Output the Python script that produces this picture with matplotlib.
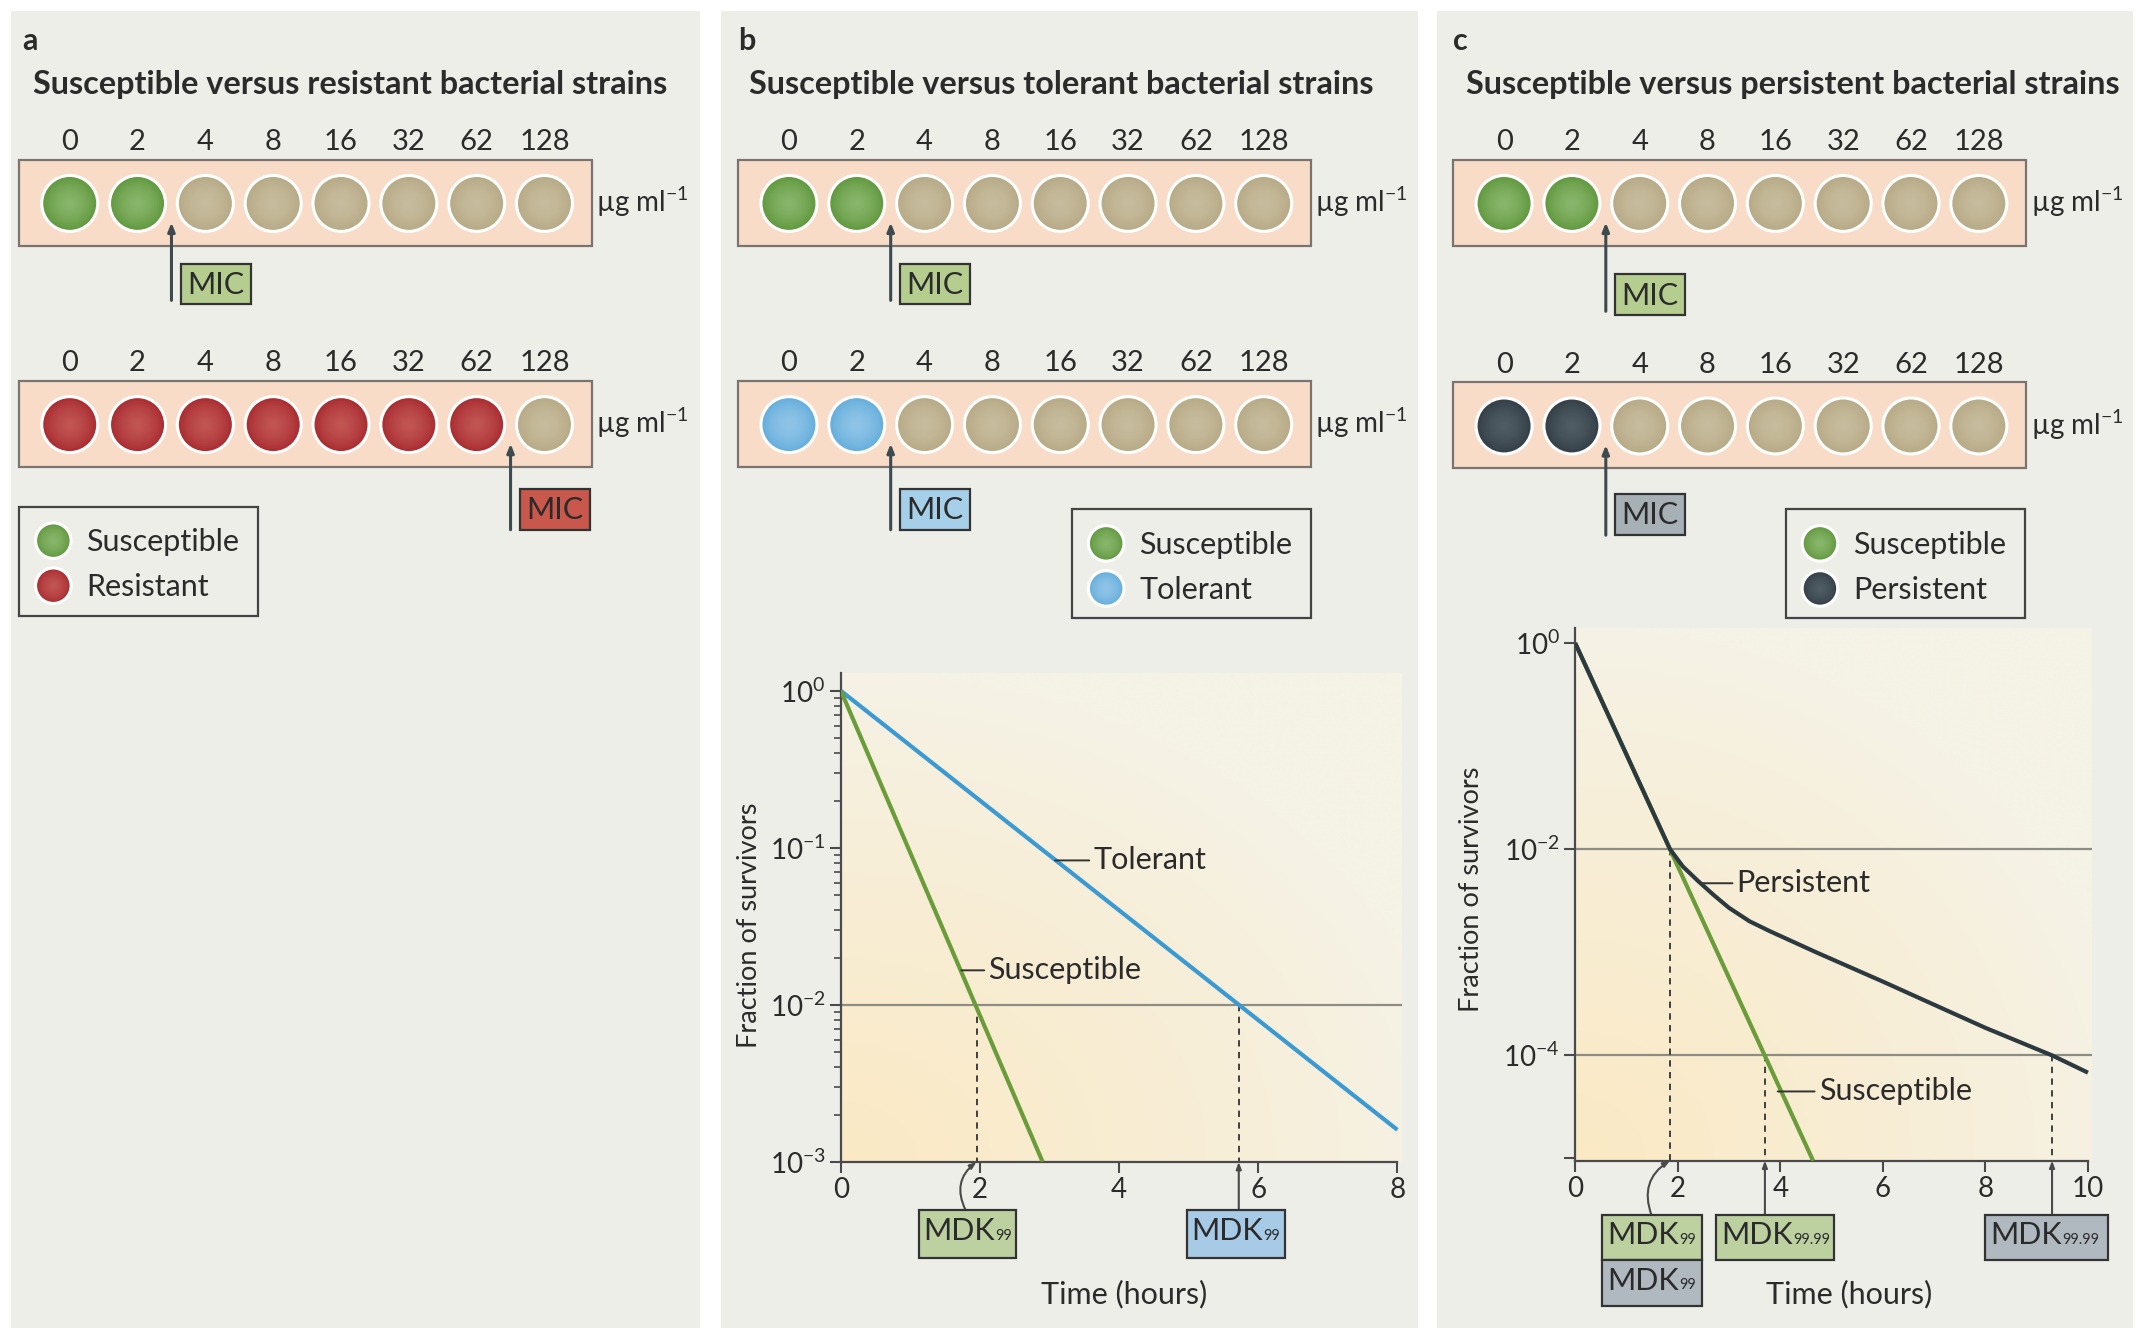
import numpy as np
import matplotlib.pyplot as plt
from matplotlib.patches import Rectangle, Circle
from matplotlib.ticker import LogLocator, NullLocator, NullFormatter

plt.rcParams['font.family'] = ['Lato', 'DejaVu Sans']
plt.rcParams['mathtext.fontset'] = 'custom'
plt.rcParams['mathtext.rm'] = 'Lato'
plt.rcParams['mathtext.it'] = 'Lato:italic'
plt.rcParams['mathtext.bf'] = 'Lato:bold'

# ---- data ----
concentrations = ['0', '2', '4', '8', '16', '32', '62', '128']
panel_letters = ['a', 'b', 'c']
panel_titles = ['Susceptible versus resistant bacterial strains',
                'Susceptible versus tolerant bacterial strains',
                'Susceptible versus persistent bacterial strains']
# number of wells with growth (top strip, bottom strip) per panel
growth_top = [2, 2, 2]
growth_bottom = [7, 2, 2]
strain_bottom = ['resistant', 'tolerant', 'persistent']
legend_labels = [['Susceptible', 'Resistant'],
                 ['Susceptible', 'Tolerant'],
                 ['Susceptible', 'Persistent']]

# panel b: time-kill curves
b_sus_time = [0, 2.9]
b_sus_frac = [1.0, 1.0e-3]
b_tol_time = [0, 8.0]
b_tol_frac = [1.0, 1.6e-3]
b_mdk_sus = 1.95
b_mdk_tol = 5.72

# panel c: time-kill curves
c_sus_time = [0, 4.64]
c_sus_frac = [1.0, 9.5e-6]
c_per_time = [0, 1.85, 2.1, 2.4, 2.7, 3.0, 3.4, 3.8, 4.7, 6.0, 7.0, 8.0, 9.3, 10.0]
c_per_frac = [1.0, 1.0e-2, 6.8e-3, 4.9e-3, 3.6e-3, 2.7e-3, 2.0e-3, 1.6e-3,
              1.0e-3, 5.2e-4, 3.1e-4, 1.85e-4, 1.0e-4, 6.8e-5]
c_mdk99 = 1.85
c_mdk9999_sus = 3.7
c_mdk9999_per = 9.3

# ---- styling ----
W, H = 1568, 980
TXT = '#2b2b2b'
PANEL_BG = '#eeeee9'
well_col = {'susceptible': ('#659b43', '#a3cb88'),
            'resistant': ('#ab3034', '#d4716a'),
            'tolerant': ('#69b0de', '#acd5f1'),
            'persistent': ('#36414a', '#66737a'),
            'empty': ('#b8ac89', '#d6cdb0')}
mic_col = {'susceptible': '#b5cd8e', 'resistant': '#c9574b',
           'tolerant': '#a6cfe9', 'persistent': '#a6b0b5'}
MDK_GREEN = '#bdd1a0'
MDK_BLUE = '#a7cbe6'
MDK_GRAY = '#b0b9bf'
LINE_GREEN = '#6a9d3a'
LINE_BLUE = '#3b9ad2'
LINE_DARK = '#2c3a40'
GRAY_LINE = '#8d8d85'
FS = 21

fig = plt.figure(figsize=(21.44, 13.38), dpi=100)
fig.patch.set_facecolor('white')

ax0 = fig.add_axes([0, 0, 1, 1])
ax0.set_xlim(0, W)
ax0.set_ylim(H, 0)
ax0.axis('off')

panel_x = [8, 527, 1051]
panel_w = [504, 510, 509]
letter_x = [16, 540, 1063]
title_x = [24, 548, 1072]
strip_x = [14, 540, 1063]
strip_y = [(117, 279), (117, 279), (117, 280)]
mic_box_y = [(193, 358), (193, 358), (201, 362)]
arrow_low = [(220, 388), (220, 388), (228, 392)]
legend_xy = [(14, 371), (784, 373), (1306, 373)]
PITCH = 49.6


def draw_well(cx, cy, kind, r=20.5):
    base, hi = well_col[kind]
    ax0.add_patch(Circle((cx, cy), r, facecolor=base, edgecolor='white', lw=2.2, zorder=3))
    for k in range(10):
        rr = r * (0.85 - k * 0.08)
        ax0.add_patch(Circle((cx, cy), rr, facecolor=hi, edgecolor='none',
                             alpha=0.09, zorder=4))


for p in range(3):
    ax0.add_patch(Rectangle((panel_x[p], 8), panel_w[p], 965, facecolor=PANEL_BG,
                            edgecolor='none', zorder=0))
    ax0.text(letter_x[p], 30, panel_letters[p], fontsize=22, fontweight='bold',
             color=TXT, va='center', ha='left')
    ax0.text(title_x[p], 62, panel_titles[p], fontsize=23.3, fontweight='bold',
             color=TXT, va='center', ha='left')

    for row in range(2):
        sx, sy = strip_x[p], strip_y[p][row]
        ax0.add_patch(Rectangle((sx, sy), 419, 63, facecolor='#f9dcc7',
                                edgecolor='#7a7470', lw=1.6, zorder=2))
        n_grow = growth_top[p] if row == 0 else growth_bottom[p]
        kind = 'susceptible' if row == 0 else strain_bottom[p]
        for i, conc in enumerate(concentrations):
            cx = sx + 37 + i * PITCH
            ax0.text(cx, sy - 13, conc, fontsize=FS, color=TXT, ha='center', va='center')
            draw_well(cx, sy + 32, kind if i < n_grow else 'empty')
        ax0.text(sx + 422, sy + 31, r'µg ml$^{-1}$', fontsize=20, color=TXT,
                 ha='left', va='center')
        # MIC arrow and label
        ax_x = sx + 37 + (n_grow - 0.5) * PITCH
        ax0.annotate('', xy=(ax_x, sy + 46), xytext=(ax_x, arrow_low[p][row]),
                     arrowprops=dict(arrowstyle='-|>,head_length=0.5,head_width=0.2',
                                     color='#3d4a50', lw=2.2, shrinkA=0, shrinkB=0),
                     zorder=5)
        by = mic_box_y[p][row]
        ax0.add_patch(Rectangle((ax_x + 7, by), 51, 30, facecolor=mic_col[kind],
                                edgecolor='#333333', lw=1.6, zorder=5))
        ax0.text(ax_x + 32.5, by + 15.5, 'MIC', fontsize=22, color=TXT, ha='center',
                 va='center', zorder=6)

    lx, ly = legend_xy[p]
    ax0.add_patch(Rectangle((lx, ly), 175, 80, facecolor='none', edgecolor='#444444',
                            lw=1.6, zorder=2))
    kinds = ['susceptible', strain_bottom[p]]
    for j in range(2):
        draw_well(lx + 25, ly + 25 + j * 33, kinds[j], r=13)
        ax0.text(lx + 49, ly + 26 + j * 33, legend_labels[p][j], fontsize=22,
                 color=TXT, ha='left', va='center')


def fig_rect(x0, y0, x1, y1):
    return [x0 / W, 1 - y1 / H, (x1 - x0) / W, (y1 - y0) / H]


def gradient_axes(rect):
    bg = fig.add_axes(rect, zorder=1)
    bg.axis('off')
    u, v = np.meshgrid(np.linspace(0, 1, 200), np.linspace(0, 1, 200))
    w = np.clip(1 - np.sqrt((u / 1.1) ** 2 + (v / 1.0) ** 2), 0, 1) ** 0.9
    warm = np.array([251, 233, 196]) / 255
    pale = np.array([245, 242, 230]) / 255
    img = pale + (warm - pale) * w[..., None]
    bg.imshow(img, origin='lower', aspect='auto', extent=[0, 1, 0, 1])
    bg.set_xlim(0, 1)
    bg.set_ylim(0, 1)


def style_axes(ax, xmax):
    for s in ['top', 'right']:
        ax.spines[s].set_visible(False)
    for s in ['left', 'bottom']:
        ax.spines[s].set_color('#4a4a4a')
        ax.spines[s].set_linewidth(1.6)
    ax.spines['bottom'].set_bounds(0, xmax)
    ax.set_facecolor('none')
    ax.tick_params(which='major', direction='out', length=8, width=1.5,
                   colors='#4a4a4a', labelcolor=TXT, labelsize=20, pad=3)
    ax.tick_params(which='minor', direction='out', length=5, width=1.2, colors='#4a4a4a')


def mdk_box(ax, t0, t1, ytop, ybot, sub, color, pad):
    tr = ax.get_xaxis_transform()
    ax.add_patch(Rectangle((t0, ybot), t1 - t0, ytop - ybot, transform=tr,
                           facecolor=color, edgecolor='#333333', lw=1.6,
                           clip_on=False, zorder=5))
    main = ax.text(t0 + pad, (ytop + ybot) / 2 + 0.005, 'MDK', transform=tr,
                   fontsize=22, color=TXT, ha='left', va='center', clip_on=False, zorder=6)
    ax.annotate(sub, xy=(1.0, 0.08), xycoords=main, fontsize=10.5, color=TXT,
                ha='left', va='bottom', annotation_clip=False, zorder=6)


def mdk_arrow(ax, t, start_t, start_frac, rad=0.0):
    ax.annotate('', xy=(t, 0), xycoords=ax.get_xaxis_transform(),
                xytext=(start_t, start_frac), textcoords=ax.get_xaxis_transform(),
                arrowprops=dict(arrowstyle='-|>,head_length=0.4,head_width=0.15',
                                color='#4a4a4a', lw=1.5, shrinkA=0, shrinkB=0,
                                connectionstyle=f'arc3,rad={rad}'),
                annotation_clip=False)


def leader(ax, text, xy, xtext):
    ax.annotate(text, xy=xy, xytext=(xtext, xy[1]), fontsize=22, color=TXT,
                va='center', ha='left',
                arrowprops=dict(arrowstyle='-', color='#333333', lw=1.4,
                                shrinkA=1, shrinkB=0))


# ---- panel b plot ----
rect_b = fig_rect(615, 493, 1025, 851)
gradient_axes(rect_b)
axb = fig.add_axes(rect_b, zorder=2)
axb.set_yscale('log')
axb.set_xlim(0, 8.06)
axb.set_ylim(1e-3, 10 ** 0.113)
style_axes(axb, 8)
axb.set_xticks([0, 2, 4, 6, 8])
axb.set_yticks([1, 1e-1, 1e-2, 1e-3])
axb.set_yticklabels([r'$10^{0}$', r'$10^{-1}$', r'$10^{-2}$', r'$10^{-3}$'])
axb.yaxis.set_minor_locator(LogLocator(base=10, subs=np.arange(2, 10)))
axb.yaxis.set_minor_formatter(NullFormatter())

axb.axhline(1e-2, color=GRAY_LINE, lw=1.6, zorder=1)
axb.plot(b_tol_time, b_tol_frac, color=LINE_BLUE, lw=3, solid_capstyle='butt', zorder=3)
axb.plot(b_sus_time, b_sus_frac, color=LINE_GREEN, lw=3, solid_capstyle='butt', zorder=3)
for t in [b_mdk_sus, b_mdk_tol]:
    axb.plot([t, t], [1e-2, 1e-3], color='#333333', lw=1.3, ls=(0, (3.5, 3)), zorder=2)
leader(axb, 'Tolerant', (3.08, 10 ** -1.08), 3.63)
leader(axb, 'Susceptible', (1.73, 10 ** -1.78), 2.12)
mdk_arrow(axb, b_mdk_sus, 1.79, -0.098, rad=-0.4)
mdk_arrow(axb, b_mdk_tol, b_mdk_tol, -0.098)
mdk_box(axb, 1.12, 2.52, -0.098, -0.196, '99', MDK_GREEN, 0.07)
mdk_box(axb, 4.97, 6.38, -0.098, -0.196, '99', MDK_BLUE, 0.07)
axb.text(0.505, -0.27, 'Time (hours)', transform=axb.transAxes, fontsize=22,
         color=TXT, ha='center', va='center')
axb.text(-0.163, 0.483, 'Fraction of survivors', transform=axb.transAxes,
         fontsize=19.5, color=TXT, ha='center', va='center', rotation=90)

# ---- panel c plot ----
rect_c = fig_rect(1152, 460, 1530, 850)
gradient_axes(rect_c)
axc = fig.add_axes(rect_c, zorder=2)
axc.set_yscale('log')
axc.set_xlim(0, 10.08)
axc.set_ylim(10 ** -5.02, 10 ** 0.146)
style_axes(axc, 10)
axc.set_xticks([0, 2, 4, 6, 8, 10])
axc.set_yticks([1, 1e-2, 1e-4, 1e-5])
axc.set_yticklabels([r'$10^{0}$', r'$10^{-2}$', r'$10^{-4}$', ''])
axc.yaxis.set_minor_locator(NullLocator())

axc.axhline(1e-2, color=GRAY_LINE, lw=1.6, zorder=1)
axc.axhline(1e-4, color=GRAY_LINE, lw=1.6, zorder=1)
axc.plot(c_sus_time, c_sus_frac, color=LINE_GREEN, lw=3, solid_capstyle='butt', zorder=3)
axc.plot(c_per_time, c_per_frac, color=LINE_DARK, lw=3, solid_capstyle='butt', zorder=4)
axc.plot([c_mdk99, c_mdk99], [1e-2, 10 ** -5.02], color='#333333', lw=1.3,
         ls=(0, (3.5, 3)), zorder=2)
for t in [c_mdk9999_sus, c_mdk9999_per]:
    axc.plot([t, t], [1e-4, 10 ** -5.02], color='#333333', lw=1.3, ls=(0, (3.5, 3)), zorder=2)
leader(axc, 'Persistent', (2.43, 10 ** -2.33), 3.15)
leader(axc, 'Susceptible', (3.95, 10 ** -4.35), 4.75)
mdk_arrow(axc, c_mdk99, 1.49, -0.103, rad=-0.4)
mdk_arrow(axc, c_mdk9999_sus, c_mdk9999_sus, -0.103)
mdk_arrow(axc, c_mdk9999_per, c_mdk9999_per, -0.103)
mdk_box(axc, 0.53, 2.48, -0.103, -0.187, '99', MDK_GREEN, 0.1)
mdk_box(axc, 0.53, 2.48, -0.187, -0.274, '99', MDK_GRAY, 0.1)
mdk_box(axc, 2.75, 5.04, -0.103, -0.187, '99.99', MDK_GREEN, 0.1)
mdk_box(axc, 8.0, 10.4, -0.103, -0.187, '99.99', MDK_GRAY, 0.1)
axc.text(0.53, -0.25, 'Time (hours)', transform=axc.transAxes, fontsize=22,
         color=TXT, ha='center', va='center')
axc.text(-0.2, 0.51, 'Fraction of survivors', transform=axc.transAxes,
         fontsize=19.5, color=TXT, ha='center', va='center', rotation=90)

fig.savefig('out.png', dpi=100, facecolor='white')
